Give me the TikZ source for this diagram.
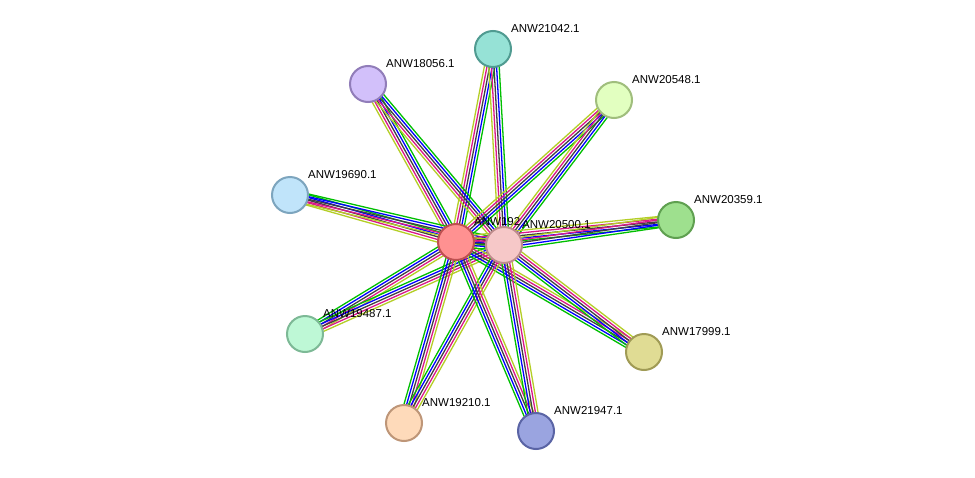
\documentclass[tikz,border=0pt]{standalone}
\usepackage{fontspec}
\setmainfont{Liberation Sans}
\usetikzlibrary{calc}
\begin{document}
\begin{tikzpicture}[x=1pt,y=-1pt,
  prot/.style={circle,minimum size=36pt,inner sep=0pt,line width=2pt},
  lab/.style={anchor=base west,font=\fontsize{11.5pt}{13pt}\selectfont,inner sep=0pt},
  ln/.style={line width=1.3pt}]
\useasboundingbox[fill=white] (0,0) rectangle (975,477);
\coordinate (c1) at (456,242);
\coordinate (c2) at (504,245);
\coordinate (n1) at (493,49);
\coordinate (n2) at (368,84);
\coordinate (n3) at (614,100);
\coordinate (n4) at (290,195);
\coordinate (n5) at (676,220);
\coordinate (n6) at (305,334);
\coordinate (n7) at (644,352);
\coordinate (n8) at (404,423);
\coordinate (n9) at (536,431);
\newcommand{\bundle}[2]{%
  \foreach \o/\col in {-5.2/green!75!black,-2.6/blue,0/black!75,2.6/magenta!90!black,5.2/yellow!75!green!90!black}{
    \draw[ln,\col] ($(#1)!\o pt!90:(#2)$) -- ($(#2)!\o pt!-90:(#1)$);}}
\foreach \n in {n1,n2,n3,n4,n5,n6,n7,n8,n9}{\bundle{c1}{\n}\bundle{c2}{\n}}
\bundle{c1}{c2}
\node[prot,fill={rgb,255:red,255;green,145;blue,145},draw={rgb,255:red,190;green,80;blue,80}] (a) at (c1) {};
\node[prot,fill={rgb,255:red,246;green,200;blue,200},draw={rgb,255:red,190;green,140;blue,140}] (b) at (c2) {};
\node[prot,fill={rgb,255:red,150;green,226;blue,214},draw={rgb,255:red,80;green,155;blue,145}] (p1) at (n1) {};
\node[prot,fill={rgb,255:red,210;green,192;blue,250},draw={rgb,255:red,145;green,125;blue,185}] (p2) at (n2) {};
\node[prot,fill={rgb,255:red,226;green,255;blue,192},draw={rgb,255:red,160;green,190;blue,125}] (p3) at (n3) {};
\node[prot,fill={rgb,255:red,192;green,228;blue,250},draw={rgb,255:red,125;green,165;blue,190}] (p4) at (n4) {};
\node[prot,fill={rgb,255:red,158;green,224;blue,142},draw={rgb,255:red,95;green,160;blue,80}] (p5) at (n5) {};
\node[prot,fill={rgb,255:red,190;green,248;blue,214},draw={rgb,255:red,125;green,185;blue,150}] (p6) at (n6) {};
\node[prot,fill={rgb,255:red,224;green,220;blue,148},draw={rgb,255:red,160;green,155;blue,85}] (p7) at (n7) {};
\node[prot,fill={rgb,255:red,254;green,218;blue,186},draw={rgb,255:red,190;green,150;blue,120}] (p8) at (n8) {};
\node[prot,fill={rgb,255:red,154;green,164;blue,224},draw={rgb,255:red,90;green,100;blue,165}] (p9) at (n9) {};
\node[lab] at ($(c1)+(18,-17)$) {ANW192};
\node[lab] at ($(c2)+(18,-17)$) {ANW20500.1};
\foreach \p/\t in {n1/ANW21042.1,n2/ANW18056.1,n3/ANW20548.1,n4/ANW19690.1,n5/ANW20359.1,n6/ANW19487.1,n7/ANW17999.1,n8/ANW19210.1,n9/ANW21947.1}
  \node[lab] at ($(\p)+(18,-17)$) {\t};
\end{tikzpicture}
\end{document}
